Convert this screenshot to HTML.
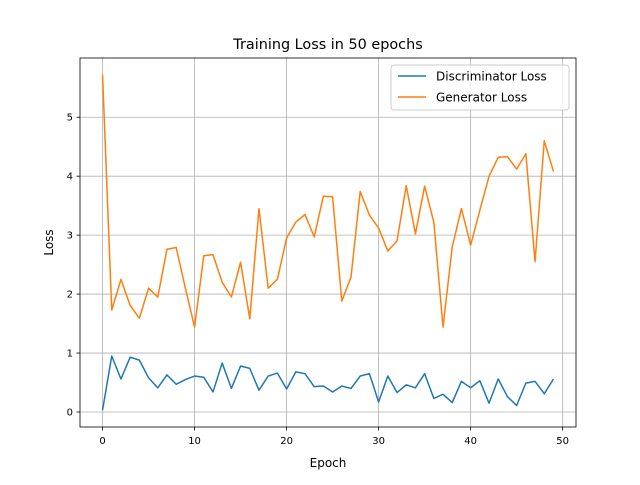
<!DOCTYPE html>
<html><head><meta charset="utf-8"><style>
body{margin:0;background:#fff}
svg{font-family:"DejaVu Sans","Liberation Sans",sans-serif}
</style></head><body>
<svg id="chart" width="640" height="480">
<rect x="0" y="0" width="640" height="480" fill="#fff"/>
<text x="328" y="49" text-anchor="middle" font-size="14.4">Training Loss in 50 epochs</text>
<g id="grid"></g><g id="series"></g><g id="axes"></g>
<text x="328" y="467" text-anchor="middle" font-size="12">Epoch</text>
<text transform="translate(53,242.5) rotate(-90)" text-anchor="middle" font-size="12">Loss</text>
<g>
<rect x="391" y="65" width="178" height="45" rx="3" fill="#fff" fill-opacity="0.8" stroke="#ccc"/>
<g><line x1="398" y1="76" x2="426" y2="76" stroke="#1f77b4" stroke-width="1.5"/><text x="436" y="80.5" font-size="12">Discriminator Loss</text></g>
<g><line x1="398" y1="97" x2="426" y2="97" stroke="#ff7f0e" stroke-width="1.5"/><text x="436" y="101.5" font-size="12">Generator Loss</text></g>
</g>
</svg>
<script>
const epochs = Array.from({length:50},(_,i)=>i);
const discLoss = [0.03,0.95,0.56,0.93,0.88,0.58,0.41,0.63,0.47,0.55,0.61,0.59,0.34,0.83,0.40,0.78,0.74,0.37,0.61,0.66,0.39,0.68,0.65,0.43,0.44,0.34,0.44,0.40,0.61,0.65,0.17,0.61,0.33,0.46,0.41,0.65,0.23,0.30,0.16,0.52,0.41,0.53,0.15,0.56,0.26,0.11,0.49,0.52,0.31,0.56];
const genLoss = [5.72,1.73,2.25,1.81,1.59,2.10,1.95,2.76,2.79,2.10,1.44,2.65,2.67,2.20,1.95,2.54,1.58,3.45,2.10,2.25,2.95,3.22,3.35,2.97,3.66,3.65,1.88,2.29,3.74,3.34,3.12,2.73,2.90,3.84,3.02,3.83,3.22,1.44,2.80,3.45,2.83,3.42,4.00,4.32,4.33,4.12,4.38,2.55,4.60,4.08];
const xTicks = [0,10,20,30,40,50];
const yTicks = [0,1,2,3,4,5];
const L=80,R=576,T=58,B=427;
const all=discLoss.concat(genLoss);
const ymn=Math.min(...all),ymx=Math.max(...all),yp=(ymx-ymn)*0.05;
const xmn=0,xmx=epochs.length-1,xp=(xmx-xmn)*0.05;
const X=v=>L+(v-(xmn-xp))/((xmx+xp)-(xmn-xp))*(R-L);
const Y=v=>B-(v-(ymn-yp))/((ymx+yp)-(ymn-yp))*(B-T);
const NS='http://www.w3.org/2000/svg';
function mk(t,a,p){const e=document.createElementNS(NS,t);for(const k in a)e.setAttribute(k,a[k]);p.appendChild(e);return e;}
const grid=document.getElementById('grid'),axes=document.getElementById('axes'),series=document.getElementById('series');
xTicks.forEach(t=>{const x=X(t);
 const g=mk('line',{x1:x,x2:x,y1:T,y2:B,stroke:'#b0b0b0','stroke-width':0.8},grid);
 
 
 mk('line',{x1:x,x2:x,y1:B,y2:B+3.5,stroke:'#000','stroke-width':0.8},axes);
 const tx=mk('text',{x:x,y:B+17,'text-anchor':'middle','font-size':10},axes);tx.textContent=t;
 
 
});
yTicks.forEach(t=>{const y=Y(t);
 const g=mk('line',{x1:L,x2:R,y1:y,y2:y,stroke:'#b0b0b0','stroke-width':0.8},grid);
 
 
 mk('line',{x1:L-3.5,x2:L,y1:y,y2:y,stroke:'#000','stroke-width':0.8},axes);
 const tx=mk('text',{x:L-7,y:y+3.5,'text-anchor':'end','font-size':10},axes);tx.textContent=t;
 
 
});
const fr=mk('rect',{x:L,y:T,width:R-L,height:B-T,fill:'none',stroke:'#000','stroke-width':0.8},axes);


function line(d,c,n){const p=mk('polyline',{points:d.map((v,i)=>X(epochs[i])+','+Y(v)).join(' '),fill:'none',stroke:c,'stroke-width':1.5,'stroke-linejoin':'round'},series);
 
 }
line(discLoss,'#1f77b4','discriminator-loss-line');
line(genLoss,'#ff7f0e','generator-loss-line');
</script>
</body></html>
